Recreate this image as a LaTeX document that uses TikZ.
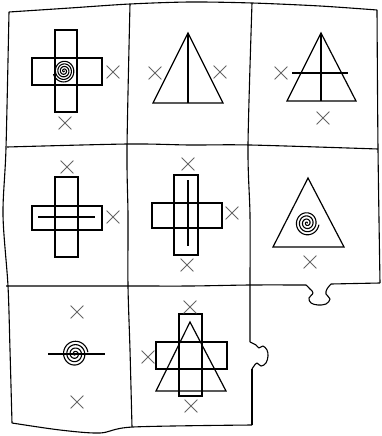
\documentclass[tikz,border=0pt]{standalone}
\usetikzlibrary{shapes.misc}

\begin{document}
\begin{tikzpicture}[x=1pt,y=-1pt,
  grid/.style={line width=1.1pt,line join=round},
  shp/.style={line width=1.2pt,line join=miter},
  xmark/.style={cross out,draw=black!60,line width=0.8pt,minimum size=12pt,inner sep=0pt},
  spiral/.style={line width=1.1pt}]
  \useasboundingbox (0,0) rectangle (381,436);
  % frame and grid
  \draw[grid] plot[smooth,tension=0.5] coordinates {(9,12) (70,8) (130,4) (190,2) (252,3) (320,6) (377,10)};
  \draw[grid] plot[smooth,tension=0.5] coordinates {(9,12) (6,148) (3,215) (8,286) (10,350) (12,423)};
  \draw[grid] plot[smooth,tension=0.5] coordinates {(377,10) (378,149) (380,283)};
  \draw[grid] plot[smooth,tension=0.5] coordinates {(7,147) (128,144) (190,145) (250,145) (378,149)};
  \draw[grid] plot[smooth,tension=0.5] coordinates {(6,286) (128,286) (190,286) (250,285) (306,285)};
  \draw[grid] plot[smooth,tension=0.6] coordinates {(306,285) (310,289) (313,293) (309,298) (311,303) (318,305) (326,304) (330,299) (326,294) (327,289) (331,284)};
  \draw[grid] (331,284) -- (380,283);
  \draw[grid] plot[smooth,tension=0.5] coordinates {(12,423) (60,430) (100,433) (133,427) (252,425)};
  \draw[grid] plot[smooth,tension=0.5] coordinates {(130,4) (127,148) (128,215) (128,286) (130,350) (132,427)};
  \draw[grid] plot[smooth,tension=0.5] coordinates {(252,3) (248,145) (250,215) (250,285) (250,342)};
  \draw[grid] plot[smooth,tension=0.6] coordinates {(250,342) (256,345) (259,348) (263,346) (267,350) (268,356) (266,363) (261,366) (257,363) (254,366) (252,369)};
  \draw[grid] (252,369) -- (252,425);
  % row 1
  \draw[shp] (55,30) rectangle (77,112);
  \draw[shp] (32,58) rectangle (102,85);
  \draw[spiral,shift={(64,71)}] plot[domain=0:28,samples=200,variable=\t] ({0.39*\t*cos(\t r)},{0.41*\t*sin(\t r)});
  \node[xmark] (a1) at (113,72) {};
  \node[xmark] (a2) at (65,123) {};
  \draw[shp] (188,33) -- (153,103) -- (223,103) -- cycle;
  \draw[shp] (188,33) -- (188,103);
  \node[xmark] (b1) at (155,73) {};
  \node[xmark] (b2) at (220,72) {};
  \draw[shp] (321,33) -- (287,101) -- (356,101) -- cycle;
  \draw[shp] (321,33) -- (321,101);
  \draw[shp] (292,73) -- (348,73);
  \node[xmark] (c1) at (281,73) {};
  \node[xmark] (c2) at (323,118) {};
  % row 2
  \draw[shp] (55,177) rectangle (78,257);
  \draw[shp] (32,206) rectangle (102,230);
  \draw[shp] (38,217) -- (95,217);
  \node[xmark] (d1) at (67,167) {};
  \node[xmark] (d2) at (113,217) {};
  \draw[shp] (174,175) rectangle (198,255);
  \draw[shp] (152,203) rectangle (222,228);
  \draw[shp] (188,180) -- (188,246);
  \node[xmark] (e1) at (188,164) {};
  \node[xmark] (e2) at (232,213) {};
  \node[xmark] (e3) at (187,265) {};
  \draw[shp] (308,178) -- (273,247) -- (344,247) -- cycle;
  \draw[spiral,shift={(307,223)},yscale=-1] plot[domain=0:25,samples=180,variable=\t] ({0.48*\t*cos(\t r)},{0.5*\t*sin(\t r)});
  \node[xmark] (f1) at (310,262) {};
  % row 3
  \draw[shp] (48,354) -- (105,354);
  \draw[spiral,shift={(75,354)}] plot[domain=0:25,samples=180,variable=\t] ({0.52*\t*cos(\t r)},{0.54*\t*sin(\t r)});
  \node[xmark] (g1) at (77,312) {};
  \node[xmark] (g2) at (77,402) {};
  \draw[shp] (179,314) rectangle (202,396);
  \draw[shp] (156,342) rectangle (227,369);
  \draw[shp] (190,322) -- (156,391) -- (226,391) -- cycle;
  \node[xmark] (h1) at (190,307) {};
  \node[xmark] (h2) at (148,357) {};
  \node[xmark] (h3) at (191,406) {};
\end{tikzpicture}
\end{document}
